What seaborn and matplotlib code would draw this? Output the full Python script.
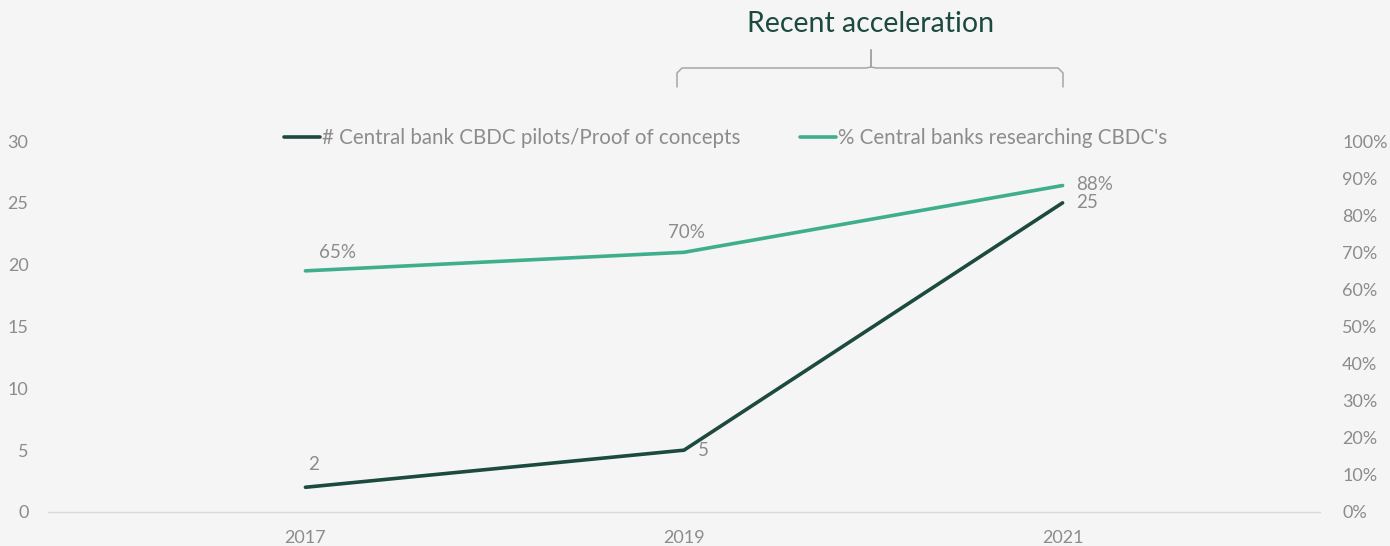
import numpy as np
import pandas as pd
import matplotlib
matplotlib.use("Agg")
import matplotlib.pyplot as plt
import seaborn as sns

# -------------------
# Data
# -------------------
years = ["2017", "2019", "2021"]
pilots = [2, 5, 25]
research_pct = [65, 70, 88]

pilot_label = "# Central bank CBDC pilots/Proof of concepts"
research_label = "% Central banks researching CBDC's"

dark_green = "#1d4a3f"
light_green = "#3fae8c"
grey = "#8c8c8c"
bg = "#f5f5f5"

df = pd.DataFrame({"year": years, "pilots": pilots, "research": research_pct})

sns.set_theme(style="white")
plt.rcParams["font.family"] = ["Lato", "DejaVu Sans"]

fig = plt.figure(figsize=(13.9, 5.46), dpi=100, facecolor=bg)
ax = fig.add_axes([48 / 1390, 34 / 546, 1272 / 1390, 371 / 546])
ax.set_facecolor(bg)
ax2 = ax.twinx()

sns.lineplot(data=df, x="year", y="pilots", ax=ax, color=dark_green, linewidth=2.6, label=pilot_label, legend=False)
sns.lineplot(data=df, x="year", y="research", ax=ax2, color=light_green, linewidth=2.6, label=research_label, legend=False)

ax.set_xlim(-0.68, 2.68)
ax.set_ylim(0, 30)
ax2.set_ylim(0, 100)
ax.set_yticks(range(0, 31, 5))
ax2.set_yticks(range(0, 101, 10))
ax2.set_yticklabels([f"{v}%" for v in range(0, 101, 10)])

for a in (ax, ax2):
    a.set_xlabel("")
    a.set_ylabel("")
    for s in a.spines.values():
        s.set_visible(False)
ax.spines["bottom"].set_visible(True)
ax.spines["bottom"].set_color("#d9d9d9")
ax.spines["bottom"].set_linewidth(1)

ax.tick_params(axis="x", length=0, pad=13, labelsize=13, labelcolor=grey)
ax.tick_params(axis="y", length=0, pad=14, labelsize=13, labelcolor=grey)
ax2.tick_params(axis="y", length=0, pad=16, labelsize=13, labelcolor=grey)

# data labels
ax.annotate(str(pilots[0]), (0, pilots[0]), xytext=(2, 10), textcoords="offset points",
            fontsize=13.5, color=grey, ha="left", va="bottom")
ax.annotate(str(pilots[1]), (1, pilots[1]), xytext=(10, 0), textcoords="offset points",
            fontsize=13.5, color=grey, ha="left", va="center")
ax.annotate(str(pilots[2]), (2, pilots[2]), xytext=(10, 0), textcoords="offset points",
            fontsize=13.5, color=grey, ha="left", va="center")
ax2.annotate(f"{research_pct[0]}%", (0, research_pct[0]), xytext=(10, 7), textcoords="offset points",
             fontsize=13.5, color=grey, ha="left", va="bottom")
ax2.annotate(f"{research_pct[1]}%", (1, research_pct[1]), xytext=(2, 8), textcoords="offset points",
             fontsize=13.5, color=grey, ha="center", va="bottom")
ax2.annotate(f"{research_pct[2]}%", (2, research_pct[2]), xytext=(10, 1), textcoords="offset points",
             fontsize=13.5, color=grey, ha="left", va="center")

# legend
h1, l1 = ax.get_legend_handles_labels()
h2, l2 = ax2.get_legend_handles_labels()
leg = fig.legend(h1 + h2, l1 + l2, loc="center", bbox_to_anchor=(726 / 1390, 1 - 138 / 546),
                 ncol=2, frameon=False, fontsize=14.8, handlelength=1.75, handletextpad=0.1,
                 columnspacing=2.9)
for t in leg.get_texts():
    t.set_color(grey)

# title + brace
fig.text(871 / 1390, 1 - 24 / 546, "Recent acceleration", fontsize=20.5, color=dark_green,
         ha="center", va="center")

W, H = 1390, 546
x0, x1, xm = 677, 1063, 871
yb, yt, ye = 68, 50, 87
r = 5
bx = [x0, x0, x0 + r, xm - r, xm, xm, xm, xm + r, x1 - r, x1, x1]
by = [ye, yb + r, yb, yb, yb - 1, yt, yb - 1, yb, yb, yb + r, ye]
fig.add_artist(plt.Line2D(np.array(bx) / W, 1 - np.array(by) / H, transform=fig.transFigure,
                          color="#a6a6a6", linewidth=1.1))

fig.savefig("out.png", dpi=100, facecolor=bg)
